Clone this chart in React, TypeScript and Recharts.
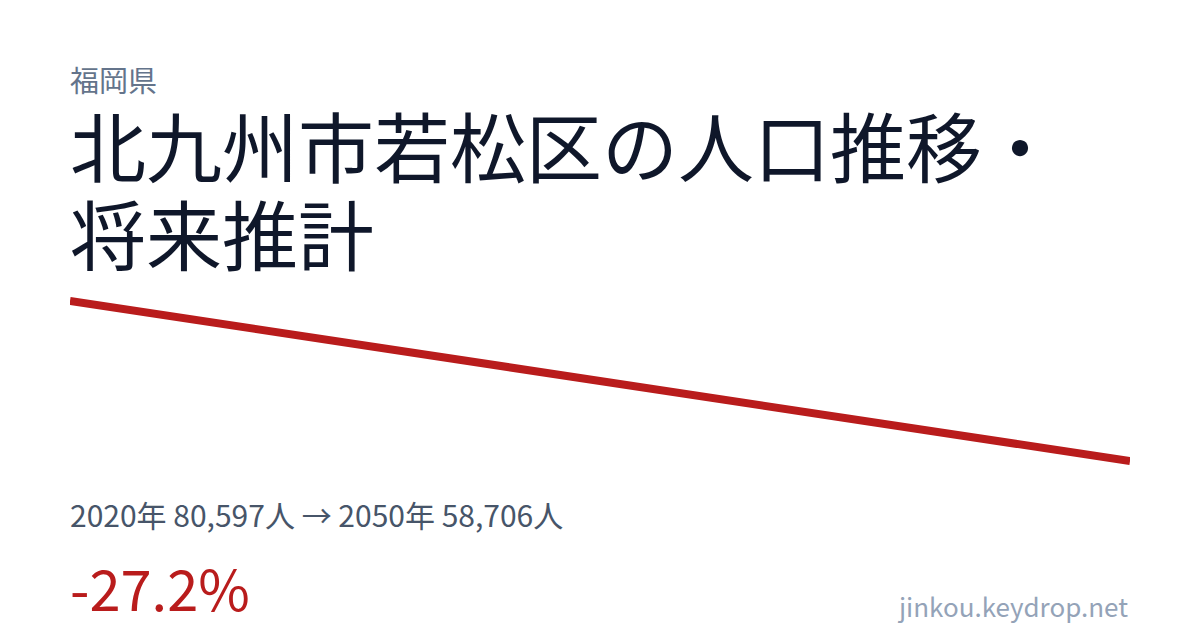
import { LineChart, Line, XAxis, YAxis } from "recharts";

const years = [2020, 2050];
const population = [80597, 58706];
const prefecture = "福岡県";
const titleLines = ["北九州市若松区の人口推移・", "将来推計"];
const changeLabel = "-27.2%";
const siteLabel = "jinkou.keydrop.net";

const data = years.map((year, i) => ({ year, value: population[i] }));

const font = '"Noto Sans CJK JP", "Noto Sans", sans-serif';

export default function App() {
  const first = data[0];
  const last = data[data.length - 1];

  return (
    <div
      style={{
        position: "fixed",
        top: 0,
        left: 0,
        width: 1200,
        height: 630,
        background: "#ffffff",
        fontFamily: font,
        overflow: "hidden",
      }}
    >
      <div
        style={{
          position: "absolute",
          left: 70,
          top: 63,
          fontSize: 29,
          lineHeight: "32px",
          color: "#64748B",
        }}
      >
        {prefecture}
      </div>

      <div
        style={{
          position: "absolute",
          left: 70,
          top: 100,
          fontSize: 76,
          lineHeight: "88px",
          color: "#0F172A",
        }}
      >
        {titleLines.map((line) => (
          <div key={line}>{line}</div>
        ))}
      </div>

      <div style={{ position: "absolute", left: 70, top: 297 }}>
        <LineChart
          width={1060}
          height={168}
          data={data}
          margin={{ top: 4, right: 0, bottom: 4, left: 0 }}
        >
          <XAxis dataKey="year" type="number" domain={["dataMin", "dataMax"]} hide />
          <YAxis type="number" domain={["dataMin", "dataMax"]} hide />
          <Line
            type="linear"
            dataKey="value"
            stroke="#B91C1C"
            strokeWidth={8}
            dot={false}
            activeDot={false}
            isAnimationActive={false}
          />
        </LineChart>
      </div>

      <div
        style={{
          position: "absolute",
          left: 70,
          top: 495,
          fontSize: 30,
          lineHeight: "38px",
          color: "#475569",
          whiteSpace: "nowrap",
        }}
      >
        {`${first.year}年 ${first.value.toLocaleString()}人 → ${last.year}年 ${last.value.toLocaleString()}人`}
      </div>

      <div
        style={{
          position: "absolute",
          left: 70,
          top: 555,
          fontSize: 56,
          lineHeight: "64px",
          color: "#B91C1C",
        }}
      >
        {changeLabel}
      </div>

      <div
        style={{
          position: "absolute",
          right: 72,
          top: 590,
          fontSize: 26,
          lineHeight: "32px",
          color: "#94A3B8",
        }}
      >
        {siteLabel}
      </div>
    </div>
  );
}
